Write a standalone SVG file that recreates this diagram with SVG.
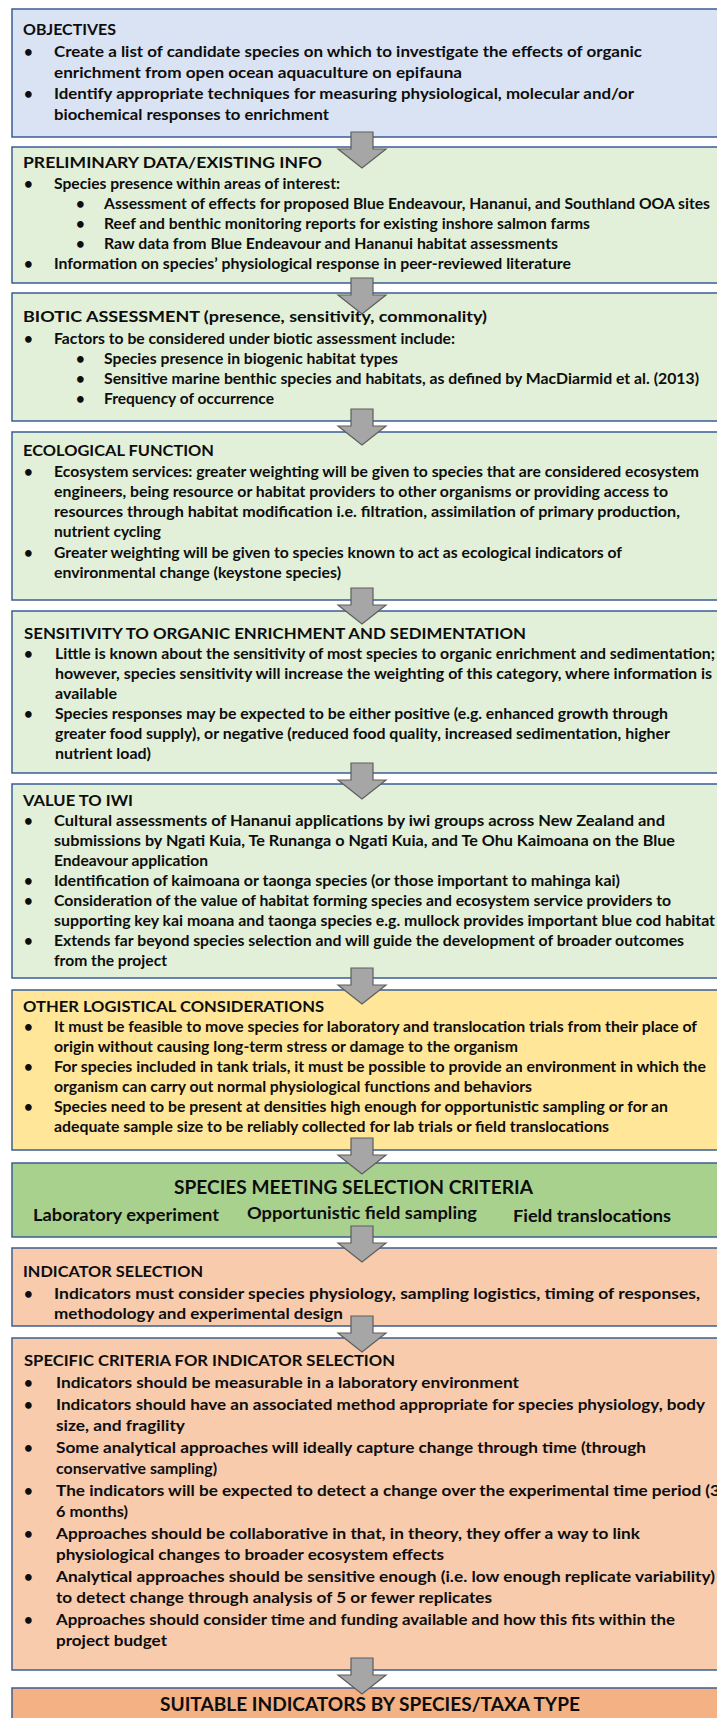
<svg xmlns="http://www.w3.org/2000/svg" width="717" height="1718" viewBox="0 0 717 1718">
<style>
  .box { stroke: #3b5d94; stroke-width: 1.5; }
  .blue { fill: #dae3f3; }
  .green { fill: #e2f0d9; }
  .gold { fill: #ffe699; }
  .lime { fill: #a9d18e; }
  .peach { fill: #f8cbad; }
  .orange { fill: #f4b183; }
  text { font-family: Lato, "Open Sans", "Liberation Sans", sans-serif; font-weight: bold; font-size: 15px; fill: #0d0d0d; }
  .big { font-size: 19px; }
  .mid { font-size: 17.5px; }
  .arrow { fill: #a6a6a6; stroke: #5e5e5e; stroke-width: 1.2; }
</style>
<defs>
  <path id="arrow" class="arrow" d="M-11,0 H11 V17 H24 L0,36 L-24,17 H-11 Z"/>
</defs>

<g id="objectives">
  <rect class="box blue" x="12" y="9" width="720" height="128"/>
  <text x="23" y="35" textLength="93" lengthAdjust="spacingAndGlyphs">OBJECTIVES</text>
  <text x="24" y="57">•</text><text x="54" y="57" textLength="588" lengthAdjust="spacingAndGlyphs">Create a list of candidate species on which to investigate the effects of organic</text>
  <text x="54" y="78" textLength="408" lengthAdjust="spacingAndGlyphs">enrichment from open ocean aquaculture on epifauna</text>
  <text x="24" y="99">•</text><text x="54" y="99" textLength="580" lengthAdjust="spacingAndGlyphs">Identify appropriate techniques for measuring physiological, molecular and/or</text>
  <text x="54" y="120" textLength="275" lengthAdjust="spacingAndGlyphs">biochemical responses to enrichment</text>
</g>

<g id="preliminary">
  <rect class="box green" x="12" y="147" width="720" height="136"/>
  <text x="23" y="168" textLength="299" lengthAdjust="spacingAndGlyphs">PRELIMINARY DATA/EXISTING INFO</text>
  <text x="24" y="189">•</text><text x="54" y="189" textLength="286" lengthAdjust="spacingAndGlyphs">Species presence within areas of interest:</text>
  <text x="76" y="209">•</text><text x="104" y="209" textLength="606" lengthAdjust="spacingAndGlyphs">Assessment of effects for proposed Blue Endeavour, Hananui, and Southland OOA sites</text>
  <text x="76" y="229">•</text><text x="104" y="229" textLength="486" lengthAdjust="spacingAndGlyphs">Reef and benthic monitoring reports for existing inshore salmon farms</text>
  <text x="76" y="249">•</text><text x="104" y="249" textLength="454" lengthAdjust="spacingAndGlyphs">Raw data from Blue Endeavour and Hananui habitat assessments</text>
  <text x="24" y="269">•</text><text x="54" y="269" textLength="517" lengthAdjust="spacingAndGlyphs">Information on species’ physiological response in peer-reviewed literature</text>
</g>

<g id="biotic">
  <rect class="box green" x="12" y="293" width="720" height="128"/>
  <text x="23" y="322" textLength="464" lengthAdjust="spacingAndGlyphs">BIOTIC ASSESSMENT (presence, sensitivity, commonality)</text>
  <text x="24" y="344">•</text><text x="54" y="344" textLength="401" lengthAdjust="spacingAndGlyphs">Factors to be considered under biotic assessment include:</text>
  <text x="76" y="364">•</text><text x="104" y="364" textLength="294" lengthAdjust="spacingAndGlyphs">Species presence in biogenic habitat types</text>
  <text x="76" y="384">•</text><text x="104" y="384" textLength="595" lengthAdjust="spacingAndGlyphs">Sensitive marine benthic species and habitats, as defined by MacDiarmid et al. (2013)</text>
  <text x="76" y="404">•</text><text x="104" y="404" textLength="170" lengthAdjust="spacingAndGlyphs">Frequency of occurrence</text>
</g>

<g id="ecological">
  <rect class="box green" x="12" y="432" width="720" height="168"/>
  <text x="23" y="456" textLength="191" lengthAdjust="spacingAndGlyphs">ECOLOGICAL FUNCTION</text>
  <text x="24" y="477">•</text><text x="54" y="477" textLength="645" lengthAdjust="spacingAndGlyphs">Ecosystem services: greater weighting will be given to species that are considered ecosystem</text>
  <text x="54" y="497" textLength="614" lengthAdjust="spacingAndGlyphs">engineers, being resource or habitat providers to other organisms or providing access to</text>
  <text x="54" y="517" textLength="626" lengthAdjust="spacingAndGlyphs">resources through habitat modification i.e. filtration, assimilation of primary production,</text>
  <text x="54" y="537" textLength="107" lengthAdjust="spacingAndGlyphs">nutrient cycling</text>
  <text x="24" y="558">•</text><text x="54" y="558" textLength="568" lengthAdjust="spacingAndGlyphs">Greater weighting will be given to species known to act as ecological indicators of</text>
  <text x="54" y="578" textLength="287" lengthAdjust="spacingAndGlyphs">environmental change (keystone species)</text>
</g>

<g id="sensitivity">
  <rect class="box green" x="12" y="611" width="720" height="162"/>
  <text x="24" y="639" textLength="502" lengthAdjust="spacingAndGlyphs">SENSITIVITY TO ORGANIC ENRICHMENT AND SEDIMENTATION</text>
  <text x="24" y="659">•</text><text x="55" y="659" textLength="660" lengthAdjust="spacingAndGlyphs">Little is known about the sensitivity of most species to organic enrichment and sedimentation;</text>
  <text x="55" y="679" textLength="657" lengthAdjust="spacingAndGlyphs">however, species sensitivity will increase the weighting of this category, where information is</text>
  <text x="55" y="699" textLength="62" lengthAdjust="spacingAndGlyphs">available</text>
  <text x="24" y="719">•</text><text x="55" y="719" textLength="613" lengthAdjust="spacingAndGlyphs">Species responses may be expected to be either positive (e.g. enhanced growth through</text>
  <text x="55" y="739" textLength="615" lengthAdjust="spacingAndGlyphs">greater food supply), or negative (reduced food quality, increased sedimentation, higher</text>
  <text x="55" y="759" textLength="96" lengthAdjust="spacingAndGlyphs">nutrient load)</text>
</g>

<g id="value-to-iwi">
  <rect class="box green" x="12" y="784" width="720" height="194"/>
  <text x="23" y="806" textLength="110" lengthAdjust="spacingAndGlyphs">VALUE TO IWI</text>
  <text x="24" y="826">•</text><text x="54" y="826" textLength="611" lengthAdjust="spacingAndGlyphs">Cultural assessments of Hananui applications by iwi groups across New Zealand and</text>
  <text x="54" y="846" textLength="621" lengthAdjust="spacingAndGlyphs">submissions by Ngati Kuia, Te Runanga o Ngati Kuia, and Te Ohu Kaimoana on the Blue</text>
  <text x="54" y="866" textLength="154" lengthAdjust="spacingAndGlyphs">Endeavour application</text>
  <text x="24" y="886">•</text><text x="54" y="886" textLength="566" lengthAdjust="spacingAndGlyphs">Identification of kaimoana or taonga species (or those important to mahinga kai)</text>
  <text x="24" y="906">•</text><text x="54" y="906" textLength="617" lengthAdjust="spacingAndGlyphs">Consideration of the value of habitat forming species and ecosystem service providers to</text>
  <text x="54" y="926" textLength="661" lengthAdjust="spacingAndGlyphs">supporting key kai moana and taonga species e.g. mullock provides important blue cod habitat</text>
  <text x="24" y="946">•</text><text x="54" y="946" textLength="630" lengthAdjust="spacingAndGlyphs">Extends far beyond species selection and will guide the development of broader outcomes</text>
  <text x="54" y="966" textLength="113" lengthAdjust="spacingAndGlyphs">from the project</text>
</g>

<g id="logistics">
  <rect class="box gold" x="12" y="990" width="720" height="160"/>
  <text x="23" y="1012" textLength="301" lengthAdjust="spacingAndGlyphs">OTHER LOGISTICAL CONSIDERATIONS</text>
  <text x="24" y="1032">•</text><text x="54" y="1032" textLength="643" lengthAdjust="spacingAndGlyphs">It must be feasible to move species for laboratory and translocation trials from their place of</text>
  <text x="54" y="1052" textLength="464" lengthAdjust="spacingAndGlyphs">origin without causing long-term stress or damage to the organism</text>
  <text x="24" y="1072">•</text><text x="54" y="1072" textLength="652" lengthAdjust="spacingAndGlyphs">For species included in tank trials, it must be possible to provide an environment in which the</text>
  <text x="54" y="1092" textLength="478" lengthAdjust="spacingAndGlyphs">organism can carry out normal physiological functions and behaviors</text>
  <text x="24" y="1112">•</text><text x="54" y="1112" textLength="614" lengthAdjust="spacingAndGlyphs">Species need to be present at densities high enough for opportunistic sampling or for an</text>
  <text x="54" y="1132" textLength="555" lengthAdjust="spacingAndGlyphs">adequate sample size to be reliably collected for lab trials or field translocations</text>
</g>

<g id="species-meeting">
  <rect class="box lime" x="12" y="1163" width="720" height="74"/>
  <text class="big" x="174" y="1194" textLength="359" lengthAdjust="spacingAndGlyphs">SPECIES MEETING SELECTION CRITERIA</text>
  <text class="mid" x="33" y="1221" textLength="186" lengthAdjust="spacingAndGlyphs">Laboratory experiment</text>
  <text class="mid" x="247" y="1219" textLength="230" lengthAdjust="spacingAndGlyphs">Opportunistic field sampling</text>
  <text class="mid" x="513" y="1222" textLength="158" lengthAdjust="spacingAndGlyphs">Field translocations</text>
</g>

<g id="indicator-selection">
  <rect class="box peach" x="12" y="1248" width="720" height="78"/>
  <text x="23" y="1277" textLength="180" lengthAdjust="spacingAndGlyphs">INDICATOR SELECTION</text>
  <text x="24" y="1299">•</text><text x="54" y="1299" textLength="646" lengthAdjust="spacingAndGlyphs">Indicators must consider species physiology, sampling logistics, timing of responses,</text>
  <text x="54" y="1319" textLength="289" lengthAdjust="spacingAndGlyphs">methodology and experimental design</text>
</g>

<g id="specific-criteria">
  <rect class="box peach" x="12" y="1338" width="720" height="332"/>
  <text x="24" y="1366" textLength="371" lengthAdjust="spacingAndGlyphs">SPECIFIC CRITERIA FOR INDICATOR SELECTION</text>
  <text x="24" y="1388">•</text><text x="56" y="1388" textLength="463" lengthAdjust="spacingAndGlyphs">Indicators should be measurable in a laboratory environment</text>
  <text x="24" y="1409.5">•</text><text x="56" y="1409.5" textLength="649" lengthAdjust="spacingAndGlyphs">Indicators should have an associated method appropriate for species physiology, body</text>
  <text x="56" y="1431" textLength="129" lengthAdjust="spacingAndGlyphs">size, and fragility</text>
  <text x="24" y="1452.5">•</text><text x="56" y="1452.5" textLength="590" lengthAdjust="spacingAndGlyphs">Some analytical approaches will ideally capture change through time (through</text>
  <text x="56" y="1474" textLength="161" lengthAdjust="spacingAndGlyphs">conservative sampling)</text>
  <text x="24" y="1495.5">•</text><text x="56" y="1495.5" textLength="664" lengthAdjust="spacingAndGlyphs">The indicators will be expected to detect a change over the experimental time period (3</text>
  <text x="56" y="1517" textLength="72" lengthAdjust="spacingAndGlyphs">6 months)</text>
  <text x="24" y="1538.5">•</text><text x="56" y="1538.5" textLength="584" lengthAdjust="spacingAndGlyphs">Approaches should be collaborative in that, in theory, they offer a way to link</text>
  <text x="56" y="1560" textLength="388" lengthAdjust="spacingAndGlyphs">physiological changes to broader ecosystem effects</text>
  <text x="24" y="1581.5">•</text><text x="56" y="1581.5" textLength="659" lengthAdjust="spacingAndGlyphs">Analytical approaches should be sensitive enough (i.e. low enough replicate variability)</text>
  <text x="56" y="1603" textLength="436" lengthAdjust="spacingAndGlyphs">to detect change through analysis of 5 or fewer replicates</text>
  <text x="24" y="1624.5">•</text><text x="56" y="1624.5" textLength="619" lengthAdjust="spacingAndGlyphs">Approaches should consider time and funding available and how this fits within the</text>
  <text x="56" y="1646" textLength="111" lengthAdjust="spacingAndGlyphs">project budget</text>
</g>

<g id="suitable-indicators">
  <rect class="box orange" x="12" y="1688" width="720" height="60"/>
  <text class="big" x="160" y="1711" textLength="420" lengthAdjust="spacingAndGlyphs">SUITABLE INDICATORS BY SPECIES/TAXA TYPE</text>
</g>

<g id="connectors">
  <use href="#arrow" transform="translate(362,132)"/>
  <use href="#arrow" transform="translate(362,278)"/>
  <use href="#arrow" transform="translate(362,409)"/>
  <use href="#arrow" transform="translate(362,588)"/>
  <use href="#arrow" transform="translate(362,763)"/>
  <use href="#arrow" transform="translate(362,968)"/>
  <use href="#arrow" transform="translate(362,1138)"/>
  <use href="#arrow" transform="translate(362,1226)"/>
  <use href="#arrow" transform="translate(362,1316)"/>
  <use href="#arrow" transform="translate(362,1658)"/>
</g>
</svg>
